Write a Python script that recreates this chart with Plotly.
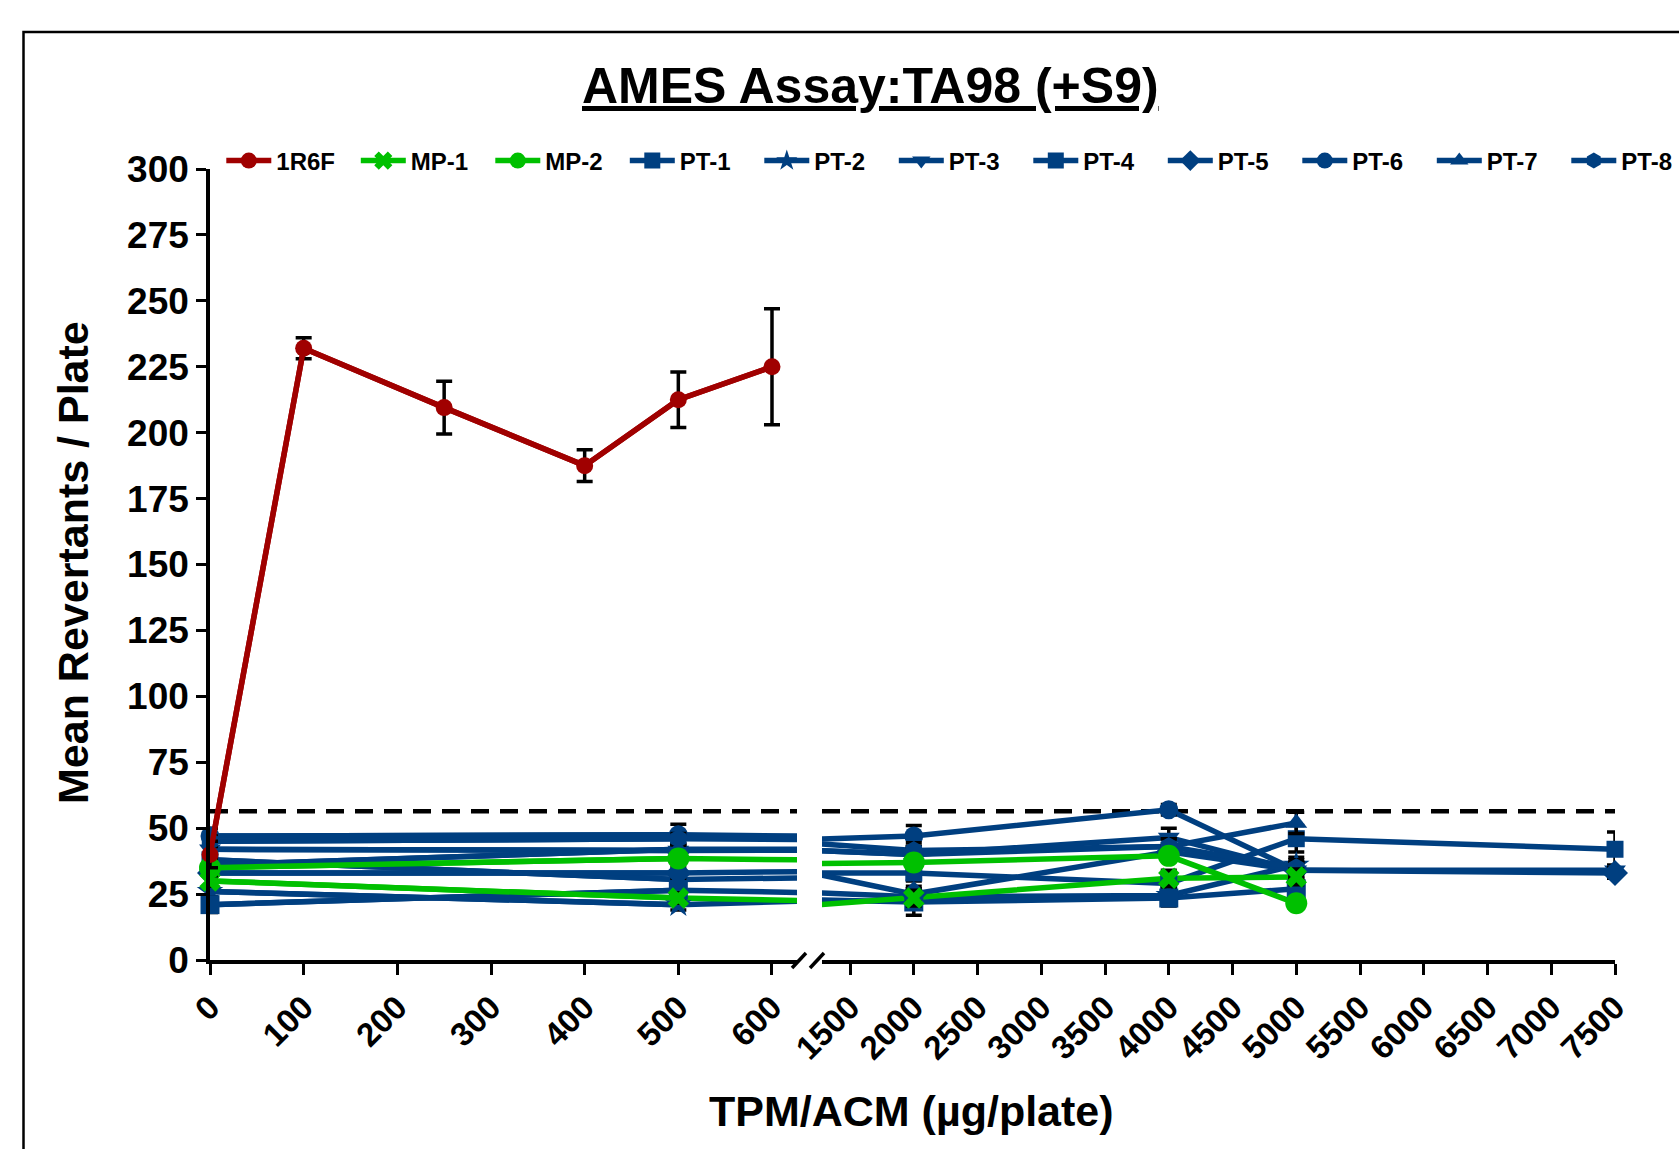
import plotly.graph_objects as go

# ---------------- data ----------------
R6F_X = [0, 100, 250, 400, 500, 600]
R6F_Y = [40, 232, 209.5, 187.5, 212.5, 225]
R6F_ERR = [5, 4, 10, 6, 10.5, 22]

DOSES = [0, 500, 1000, 2000, 4000, 5000, 7500]

MP1_Y = [30, 23.5, 20, 23.5, 31, 31.5, None]
MP1_ERR = [2, 2, 2, 3, 3, 3, None]
MP2_Y = [35, 38.5, 36.5, 37, 39.5, 21.5, None]
MP2_ERR = [3, 2, 2, 2, 2, 2, None]

PT1_Y = [38, 30.5, 33, 33, 29, 46, 42]
PT1_ERR = [3, 3, 3, 3, 3, 5, 6.5]
PT2_Y = [26, 21, 26, 24, 24.5, 36, None]
PT2_ERR = [2, 2, 2, 3, 3, 3, None]
PT3_Y = [42, 41.5, 42, 40, 46.5, 34, 34]
PT3_ERR = [3, 2, 2, 3, 3.5, 3, 2]
PT4_Y = [21, 26.5, 23, 22, 23.5, 27, None]
PT4_ERR = [3, 2, 2, 5, 3, 3, None]
PT5_Y = [33, 33, 35, 25, 41, 34, 33]
PT5_ERR = [2, 2, 2, 3, 3, 3, 2]
PT6_Y = [47, 47.5, 45.5, 47, 57, 34, None]
PT6_ERR = [3, 4, 2, 4, 2, 3, None]
PT7_Y = [36, 42, 42, 40, 43, 52, None]
PT7_ERR = [2, 2, 2, 3, 3, 4, None]
PT8_Y = [45, 46, 45, 41.5, 43, 35, None]
PT8_ERR = [2, 2, 2, 3, 3, 3, None]

THRESHOLD = 56.4

X_LEFT_RANGE = [0, 626.7]
X_RIGHT_RANGE = [1280, 7500]
LEFT_TICKS = [0, 100, 200, 300, 400, 500, 600]
RIGHT_TICKS = [1500, 2000, 2500, 3000, 3500, 4000, 4500, 5000, 5500, 6000, 6500, 7000, 7500]
Y_TICKS = list(range(0, 301, 25))

RED = "#A00000"
GREEN = "#00C000"
BLUE = "#003F80"

series = [
    # name, x, y, err, color, symbol, size
    ("PT-1", DOSES, PT1_Y, PT1_ERR, BLUE, "square", 17),
    ("PT-2", DOSES, PT2_Y, PT2_ERR, BLUE, "star", 20),
    ("PT-3", DOSES, PT3_Y, PT3_ERR, BLUE, "triangle-down", 19),
    ("PT-4", DOSES, PT4_Y, PT4_ERR, BLUE, "square", 19),
    ("PT-5", DOSES, PT5_Y, PT5_ERR, BLUE, "diamond", 20),
    ("PT-6", DOSES, PT6_Y, PT6_ERR, BLUE, "circle", 19),
    ("PT-7", DOSES, PT7_Y, PT7_ERR, BLUE, "triangle-up", 19),
    ("PT-8", DOSES, PT8_Y, PT8_ERR, BLUE, "hexagon", 19),
    ("MP-1", DOSES, MP1_Y, MP1_ERR, GREEN, "x", 19),
    ("MP-2", DOSES, MP2_Y, MP2_ERR, GREEN, "circle", 22),
    ("1R6F", R6F_X, R6F_Y, R6F_ERR, RED, "circle", 17),
]
legend_rank = {"1R6F": 1, "MP-1": 2, "MP-2": 3, "PT-1": 4, "PT-2": 5, "PT-3": 6,
               "PT-4": 7, "PT-5": 8, "PT-6": 9, "PT-7": 10, "PT-8": 11}

W, H = 1679, 1149
ML, MR, MT, MB = 210, 64, 169, 189
PW = W - ML - MR
PH = H - MT - MB
LEFT_DOMAIN = [0, (797 - ML) / PW]
RIGHT_DOMAIN = [(822 - ML) / PW, 1]

FONT = "Arial, 'Liberation Sans', Helvetica, sans-serif"

fig = go.Figure()

# threshold dashed line on both segments
for xa, rng in (("x", X_LEFT_RANGE), ("x2", X_RIGHT_RANGE)):
    fig.add_trace(go.Scatter(x=rng, y=[THRESHOLD, THRESHOLD], xaxis=xa, yaxis="y",
                             mode="lines", line=dict(color="black", width=4.5, dash="18px,11px"),
                             showlegend=False, hoverinfo="skip"))

# lines (full data on both segments, clipped by each subplot)
for name, xs, ys, errs, col, sym, sz in series:
    pts = [(x, y) for x, y in zip(xs, ys) if y is not None]
    for xa in ("x", "x2"):
        fig.add_trace(go.Scatter(x=[p[0] for p in pts], y=[p[1] for p in pts], xaxis=xa, yaxis="y",
                                 mode="lines", line=dict(color=col, width=5.5),
                                 showlegend=False, hoverinfo="skip", legendgroup=name))

# markers with error bars
for name, xs, ys, errs, col, sym, sz in series:
    for xa, rng in (("x", X_LEFT_RANGE), ("x2", X_RIGHT_RANGE)):
        sel = [(x, y, e) for x, y, e in zip(xs, ys, errs)
               if y is not None and rng[0] <= x <= rng[1]]
        if not sel:
            continue
        show = (xa == "x")
        fig.add_trace(go.Scatter(
            x=[s[0] for s in sel], y=[s[1] for s in sel], xaxis=xa, yaxis="y",
            mode="lines+markers" if show else "markers",
            name=name, legendgroup=name, showlegend=show,
            legendrank=legend_rank[name],
            line=dict(color=col, width=5.5),
            marker=dict(symbol=sym, size=sz, color=col, line=dict(width=0)),
            error_y=dict(type="data", array=[s[2] for s in sel], color="black",
                         thickness=3.5, width=8),
            cliponaxis=False,
        ))

axis_common = dict(showline=True, linecolor="black", linewidth=3.5, ticks="outside",
                   ticklen=11, tickwidth=3, tickcolor="black", showgrid=False, zeroline=False,
                   tickfont=dict(family=FONT, size=33, color="black", weight="bold"),
                   tickangle=-45)

fig.update_layout(
    width=W, height=H,
    margin=dict(l=ML, r=MR, t=MT, b=MB, autoexpand=False),
    paper_bgcolor="white", plot_bgcolor="white",
    xaxis=dict(domain=LEFT_DOMAIN, range=X_LEFT_RANGE, tickvals=LEFT_TICKS, anchor="y",
               **axis_common),
    xaxis2=dict(domain=RIGHT_DOMAIN, range=X_RIGHT_RANGE, tickvals=RIGHT_TICKS, anchor="y",
                **axis_common),
    yaxis=dict(range=[0, 300], tickvals=Y_TICKS, showline=True, linecolor="black",
               linewidth=3.5, ticks="outside", ticklen=10, tickwidth=3, tickcolor="black",
               showgrid=False, zeroline=False,
               tickfont=dict(family=FONT, size=37, color="black", weight="bold")),
    legend=dict(orientation="h", x=-0.0005, y=(H - MB - 161) / PH, xanchor="left", yanchor="middle",
                font=dict(family=FONT, size=24, color="black", weight="bold"),
                bgcolor="rgba(0,0,0,0)", entrywidth=62.5, entrywidthmode="pixels",
                tracegroupgap=0, itemwidth=45, indentation=12),
    showlegend=True,
)

# title
fig.add_annotation(text="<u>AMES Assay:TA98 (+S9)</u>", xref="paper", yref="paper",
                   x=(870 - ML) / PW, y=(H - MB - 86) / PH, xanchor="center", yanchor="middle",
                   showarrow=False, font=dict(family=FONT, size=50, color="black", weight="bold"))
# axis titles
fig.add_annotation(text="Mean Revertants / Plate", xref="paper", yref="paper",
                   x=(73 - ML) / PW, y=(H - MB - 563) / PH, textangle=-90,
                   xanchor="center", yanchor="middle", showarrow=False,
                   font=dict(family=FONT, size=43, color="black", weight="bold"))
fig.add_annotation(text="TPM/ACM (µg/plate)", xref="paper", yref="paper",
                   x=(911 - ML) / PW, y=(H - MB - 1111) / PH,
                   xanchor="center", yanchor="middle", showarrow=False,
                   font=dict(family=FONT, size=43, color="black", weight="bold"))

# outer frame
fig.add_shape(type="rect", xref="paper", yref="paper",
              x0=(23.5 - ML) / PW, x1=1.2, y0=-0.5, y1=(H - MB - 32) / PH,
              line=dict(color="black", width=2.5), fillcolor="rgba(0,0,0,0)", layer="below")

# axis break marks
for bx in (792, 810):
    fig.add_shape(type="line", xref="paper", yref="paper",
                  x0=(bx - ML) / PW, y0=(H - MB - 968) / PH,
                  x1=(bx + 14 - ML) / PW, y1=(H - MB - 953) / PH,
                  line=dict(color="black", width=3.5))

fig.write_html("out.html")
